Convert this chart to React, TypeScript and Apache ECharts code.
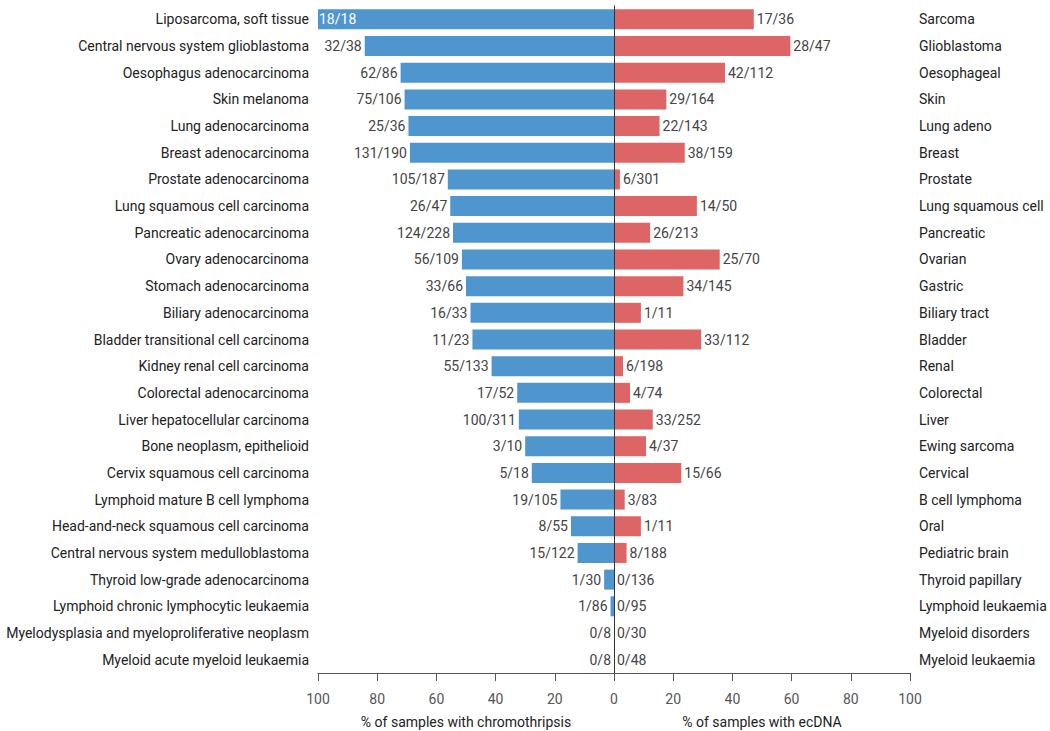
import React, { useEffect, useRef } from "react";
import * as echarts from "echarts";

const leftCategories = [
  "Liposarcoma, soft tissue",
  "Central nervous system glioblastoma",
  "Oesophagus adenocarcinoma",
  "Skin melanoma",
  "Lung adenocarcinoma",
  "Breast adenocarcinoma",
  "Prostate adenocarcinoma",
  "Lung squamous cell carcinoma",
  "Pancreatic adenocarcinoma",
  "Ovary adenocarcinoma",
  "Stomach adenocarcinoma",
  "Biliary adenocarcinoma",
  "Bladder transitional cell carcinoma",
  "Kidney renal cell carcinoma",
  "Colorectal adenocarcinoma",
  "Liver hepatocellular carcinoma",
  "Bone neoplasm, epithelioid",
  "Cervix squamous cell carcinoma",
  "Lymphoid mature B cell lymphoma",
  "Head-and-neck squamous cell carcinoma",
  "Central nervous system medulloblastoma",
  "Thyroid low-grade adenocarcinoma",
  "Lymphoid chronic lymphocytic leukaemia",
  "Myelodysplasia and myeloproliferative neoplasm",
  "Myeloid acute myeloid leukaemia",
];

const rightCategories = [
  "Sarcoma",
  "Glioblastoma",
  "Oesophageal",
  "Skin",
  "Lung adeno",
  "Breast",
  "Prostate",
  "Lung squamous cell",
  "Pancreatic",
  "Ovarian",
  "Gastric",
  "Biliary tract",
  "Bladder",
  "Renal",
  "Colorectal",
  "Liver",
  "Ewing sarcoma",
  "Cervical",
  "B cell lymphoma",
  "Oral",
  "Pediatric brain",
  "Thyroid papillary",
  "Lymphoid leukaemia",
  "Myeloid disorders",
  "Myeloid leukaemia",
];

// chromothripsis: positive samples / total samples
const chromoPositive = [18, 32, 62, 75, 25, 131, 105, 26, 124, 56, 33, 16, 11, 55, 17, 100, 3, 5, 19, 8, 15, 1, 1, 0, 0];
const chromoTotal = [18, 38, 86, 106, 36, 190, 187, 47, 228, 109, 66, 33, 23, 133, 52, 311, 10, 18, 105, 55, 122, 30, 86, 8, 8];

// ecDNA: positive samples / total samples
const ecdnaPositive = [17, 28, 42, 29, 22, 38, 6, 14, 26, 25, 34, 1, 33, 6, 4, 33, 4, 15, 3, 1, 8, 0, 0, 0, 0];
const ecdnaTotal = [36, 47, 112, 164, 143, 159, 301, 50, 213, 70, 145, 11, 112, 198, 74, 252, 37, 66, 83, 11, 188, 136, 95, 30, 48];

const FONT = "Roboto";

export default function App() {
  const ref = useRef<HTMLDivElement>(null);

  useEffect(() => {
    document.body.style.margin = "0";
    if (!ref.current) return;
    const chart = echarts.init(ref.current, undefined, { renderer: "svg" });

    const leftData = chromoPositive.map((p, i) => {
      const v = (p / chromoTotal[i]) * 100;
      const full = v >= 99.9;
      return {
        value: v,
        label: {
          show: true,
          formatter: `${p}/${chromoTotal[i]}`,
          position: full ? "insideLeft" : "left",
          distance: full ? 1 : 3,
          color: full ? "#ffffff" : "#444444",
        },
      };
    });

    const rightData = ecdnaPositive.map((p, i) => ({
      value: (p / ecdnaTotal[i]) * 100,
      label: {
        show: true,
        formatter: `${p}/${ecdnaTotal[i]}`,
        position: "right",
        distance: 3,
        color: "#444444",
      },
    }));

    const axisTextStyle = { fontFamily: FONT, fontSize: 14, color: "#222222" };

    chart.setOption({
      animation: false,
      textStyle: { fontFamily: FONT },
      grid: [
        { left: 318, width: 296, top: 6, height: 667, outerBoundsMode: "none", containLabel: false },
        { left: 614, width: 296, top: 6, height: 667, outerBoundsMode: "none", containLabel: false },
      ],
      xAxis: [
        {
          type: "value",
          gridIndex: 0,
          inverse: true,
          min: 0,
          max: 100,
          interval: 20,
          splitLine: { show: false },
          axisLine: { show: true, lineStyle: { color: "#555555", width: 1 } },
          axisTick: { show: true, length: 8, lineStyle: { color: "#555555" } },
          axisLabel: { fontFamily: FONT, fontSize: 14, color: "#555555", margin: 19 },
          name: "% of samples with chromothripsis",
          nameLocation: "middle",
          nameGap: 42,
          nameTextStyle: axisTextStyle,
        },
        {
          type: "value",
          gridIndex: 1,
          min: 0,
          max: 100,
          interval: 20,
          splitLine: { show: false },
          axisLine: { show: true, lineStyle: { color: "#555555", width: 1 } },
          axisTick: { show: true, length: 8, lineStyle: { color: "#555555" } },
          axisLabel: { fontFamily: FONT, fontSize: 14, color: "#555555", margin: 19, showMinLabel: false },
          name: "% of samples with ecDNA",
          nameLocation: "middle",
          nameGap: 42,
          nameTextStyle: axisTextStyle,
        },
      ],
      yAxis: [
        {
          type: "category",
          gridIndex: 0,
          data: leftCategories,
          inverse: true,
          position: "left",
          axisLine: { show: true, lineStyle: { color: "#555555", width: 1 } },
          axisTick: { show: false },
          axisLabel: { ...axisTextStyle, margin: 9 },
        },
        {
          type: "category",
          gridIndex: 1,
          data: rightCategories,
          inverse: true,
          position: "right",
          axisLine: { show: true, lineStyle: { color: "#555555", width: 1 } },
          axisTick: { show: false },
          axisLabel: { ...axisTextStyle, margin: 9 },
        },
      ],
      series: [
        {
          type: "bar",
          xAxisIndex: 0,
          yAxisIndex: 0,
          data: leftData,
          barWidth: 20,
          itemStyle: { color: "#4f96cf" },
          label: { fontFamily: FONT, fontSize: 14 },
          markLine: {
            silent: true,
            symbol: "none",
            label: { show: false },
            lineStyle: { color: "#333333", width: 1, type: "solid" },
            data: [{ xAxis: 0 }],
          },
        },
        {
          type: "bar",
          xAxisIndex: 1,
          yAxisIndex: 1,
          data: rightData,
          barWidth: 20,
          itemStyle: { color: "#dd6566" },
          label: { fontFamily: FONT, fontSize: 14 },
        },
      ],
    });

    return () => chart.dispose();
  }, []);

  return <div ref={ref} style={{ width: 1050, height: 731 }} />;
}
